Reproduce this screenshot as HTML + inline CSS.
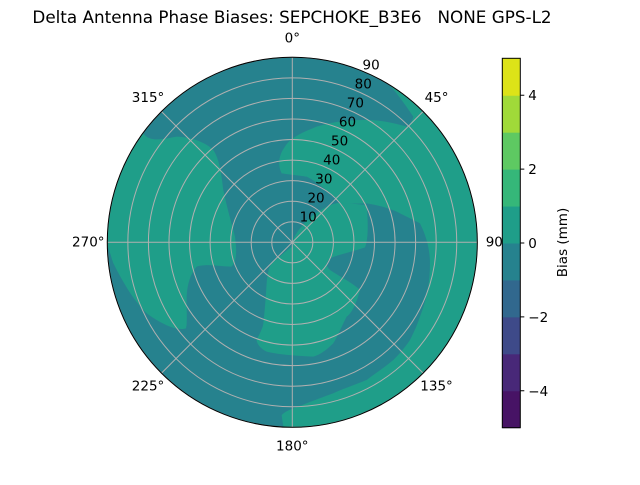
<!DOCTYPE html>
<html><head><meta charset="utf-8"><style>
body{margin:0;background:#fff}
svg text{font-family:"DejaVu Sans","Liberation Sans",sans-serif;fill:#000}
</style></head><body>
<svg id="chart" width="640" height="480" viewBox="0 0 640 480" xmlns="http://www.w3.org/2000/svg">
<rect width="640" height="480" fill="#fff"/>
<text x="292" y="23" font-size="16.8" text-anchor="middle" xml:space="preserve">Delta Antenna Phase Biases: SEPCHOKE_B3E6   NONE GPS-L2</text>
<defs><clipPath id="pc"><circle cx="292.3" cy="242.3" r="185"/></clipPath></defs>
<g clip-path="url(#pc)">
<circle cx="292.3" cy="242.3" r="185" fill="#26828e"/>
<g transform="translate(100,50) scale(0.3333)">
<path fill="#1f9e89" d="M130,250 C150,280 200,265 230,260 C280,262 320,280 340,300 C360,330 365,380 370,420 C380,470 395,520 405,560 C410,600 412,630 395,650 C360,650 320,640 290,650 C265,680 260,720 260,750 C260,790 262,820 258,835 C230,845 180,820 140,790 C100,750 70,700 40,640 C30,610 25,590 20,580 L0,580 L0,230 Z"/>
<path fill="#1f9e89" d="M820,60 C850,85 880,110 940,200 C935,220 925,230 920,230 C870,215 830,210 800,210 C740,210 700,215 650,230 C600,250 570,265 555,290 C540,310 530,340 545,370 C580,375 610,378 620,380 C660,400 690,430 720,460 C760,462 790,460 800,460 C850,468 880,480 900,490 C930,505 950,515 960,520 C980,560 990,600 990,640 C990,700 980,750 960,800 C950,830 940,850 930,870 C910,900 890,920 880,930 C850,955 820,975 800,990 C750,1010 720,1020 700,1030 C660,1045 640,1052 620,1060 C590,1072 560,1080 545,1095 L560,1200 L1200,1200 L1200,0 L820,0 Z"/>
<path fill="#1f9e89" d="M577,577 C585,550 610,520 640,495 C670,475 690,462 720,458 L800,465 C805,520 805,570 795,592 C760,605 720,612 690,625 C680,635 675,645 690,660 C720,680 760,700 780,720 C770,760 755,790 740,800 C720,840 710,865 700,880 C680,900 660,915 640,920 C600,918 540,915 500,905 C480,895 470,880 470,870 C480,850 490,830 490,820 C495,780 498,730 500,700 C502,670 508,650 515,640 C540,620 560,600 577,590 Z"/>
</g>
</g>
<g id="grid"></g>
<circle cx="292.3" cy="242.3" r="185" fill="none" stroke="#000" stroke-width="1"/>
<g id="labels"></g>
<g id="cbar"></g>
<text transform="translate(567,242.5) rotate(-90)" font-size="13.5" text-anchor="middle">Bias (mm)</text>
<script>
const ringValues=[10,20,30,40,50,60,70,80,90];
const azimuthTicks=[0,45,90,135,180,225,270,315];
const azimuthLabels=["0°","45°","90","135°","180°","225°","270°","315°"];
const levels=[-5,-4,-3,-2,-1,0,1,2,3,4,5];
const levelColors=["#471365","#482878","#3e4a89","#31688e","#26828e","#1f9e89","#35b779","#5ec962","#a0da39","#dde318"];
const cbarTicks=[-4,-2,0,2,4];
const NS="http://www.w3.org/2000/svg";
const cx=292.3,cy=242.3,R=185,rMax=90;
const rScale=v=>v/rMax*R;
function mk(t,a,p){const e=document.createElementNS(NS,t);for(const k in a)e.setAttribute(k,a[k]);p.appendChild(e);return e;}
const grid=document.getElementById('grid'),labels=document.getElementById('labels'),cbar=document.getElementById('cbar');
ringValues.forEach(v=>{
  const c=mk('circle',{cx:cx,cy:cy,r:rScale(v),fill:'none',stroke:'#b0b0b0','stroke-width':1},grid);
  
  
  const a=22.5*Math.PI/180,r=rScale(v);
  const t=mk('text',{x:cx+r*Math.sin(a)+8,y:cy-r*Math.cos(a)-2,'font-size':13.5,'text-anchor':'middle'},labels);
  t.textContent=v;
  
  
});
azimuthTicks.forEach((d,i)=>{
  const a=d*Math.PI/180;
  const l=mk('line',{x1:cx,y1:cy,x2:cx+R*Math.sin(a),y2:cy-R*Math.cos(a),stroke:'#b0b0b0','stroke-width':1},grid);
  
  
  const lr=R+19;
  const t=mk('text',{x:cx+lr*Math.sin(a)+(d===90?-2:0),y:cy-lr*Math.cos(a)+4,'font-size':13.5,'text-anchor':'middle'},labels);
  t.textContent=azimuthLabels[i];
  
  
});
const cbX=502.3,cbW=18,cbTop=58.3,cbBot=427.7;
const cy2=v=>cbBot-(v-levels[0])/(levels[levels.length-1]-levels[0])*(cbBot-cbTop);
levelColors.forEach((col,i)=>{
  const r=mk('rect',{x:cbX,y:cy2(levels[i+1]),width:cbW,height:cy2(levels[i])-cy2(levels[i+1])+0.5,fill:col},cbar);
  
  
});
const fr=mk('rect',{x:cbX,y:cbTop,width:cbW,height:cbBot-cbTop,fill:'none',stroke:'#000','stroke-width':1},cbar);


cbarTicks.forEach(v=>{
  const y=cy2(v);
  const l=mk('line',{x1:cbX+cbW,x2:cbX+cbW+4,y1:y,y2:y,stroke:'#000'},cbar);
  
  
  const t=mk('text',{x:cbX+cbW+8,y:y+5,'font-size':13.5},cbar);
  t.textContent=v<0?'\u2212'+Math.abs(v):String(v);
  
  
});
</script>
</svg>
</body></html>
